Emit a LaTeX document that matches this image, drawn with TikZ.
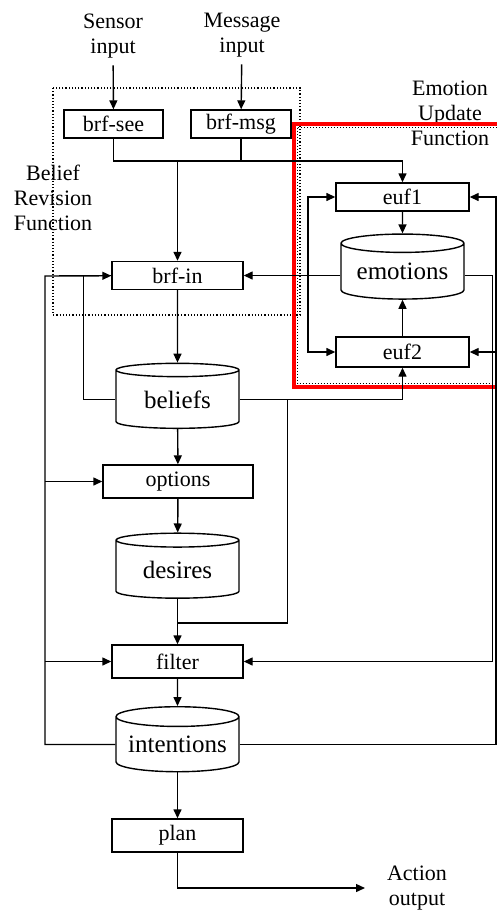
\documentclass[tikz,border=0pt]{standalone}
\usepackage{fontspec}
\setmainfont{Liberation Serif}
\usetikzlibrary{shapes.geometric,arrows.meta,positioning}

\tikzset{
  box/.style={draw,minimum height=14pt,inner sep=0pt,font=\fontsize{11}{12}\selectfont},
  store/.style={draw,cylinder,shape border rotate=90,aspect=0.2,minimum width=61.5pt,minimum height=32.5pt,inner sep=0pt,font=\fontsize{12.5}{14}\selectfont},
  lbl/.style={align=center,font=\fontsize{11}{12.5}\selectfont},
  arr/.style={-{Triangle[length=4.5pt,width=4pt]}}
}

\begin{document}
\begin{tikzpicture}[x=0.5pt,y=-0.5pt,line width=0.7pt]
  \useasboundingbox (0,0) rectangle (497,910);
  \node[lbl] (sensor) at (113,36) {Sensor\\input};
  \node[lbl] (message) at (242,35) {Message\\input};
  \node[box,minimum width=49.5pt] (brfsee) at (113.5,124) {brf-see};
  \node[box,minimum width=50pt] (brfmsg) at (241,124) {brf-msg};
  \node[box,minimum width=66.5pt] (euf1) at (402.5,197) {euf1};
  \node[store] (emotions) at (402.5,271.5) {emotions};
  \node[box,minimum width=66.5pt,minimum height=15pt] (euf2) at (402.5,352) {euf2};
  \node[box,minimum width=65.5pt] (brfin) at (177.5,275.5) {brf-in};
  \node[store] (beliefs) at (177.5,399.5) {beliefs};
  \node[box,minimum width=75pt,minimum height=16.5pt] (options) at (178,481.5) {options};
  \node[store] (desires) at (177.5,569.5) {desires};
  \node[box,minimum width=65.5pt,minimum height=16.5pt] (filter) at (177.5,661.5) {filter};
  \node[store] (intentions) at (177.5,744.5) {intentions};
  \node[box,minimum width=65.5pt,minimum height=16.5pt] (plan) at (177.5,835.5) {plan};
  \node[lbl] (action) at (417,888) {Action\\output};
  \node[lbl] (euflbl) at (450,113) {Emotion\\Update\\Function};
  \node[lbl] (brflbl) at (53,198) {Belief\\Revision\\Function};

  \draw[densely dotted,line width=0.6pt] (53,88) rectangle (300,315);
  \draw[red,line width=1.6pt] (294,124) rectangle (510,387);
  \draw[densely dotted,line width=0.5pt] (297.5,127.5) rectangle (510,383.5);

  \coordinate (jbrf) at (177.5,161);
  \coordinate (eleft) at (308,275.5);
  \coordinate (lout) at (45,276);
  \coordinate (rout) at (496,197);
  \coordinate (jfil) at (177.5,623);
  \coordinate (actend) at (365,888);

  \draw[arr] (sensor) -- (brfsee);
  \draw[arr] (message) -- (brfmsg);
  \draw[arr] (brfsee) |- (jbrf) -| (euf1);
  \draw (brfmsg) -- (brfmsg |- jbrf);
  \draw[arr] (jbrf) -- (brfin);
  \draw[arr] (euf1) -- (emotions);
  \draw[arr] (euf2) -- (emotions);
  \draw[arr] (emotions.west |- brfin) -- (brfin);
  \draw[arr] (eleft) |- (euf1);
  \draw[arr] (eleft) |- (euf2);
  \draw[arr] (emotions.east |- brfin) -- ++(28,0) |- (filter);
  \draw[arr] (intentions) -| (rout) -- (euf1);
  \draw[arr] (rout |- euf2) -- (euf2);
  \draw[arr] (intentions) -| (lout) -- (brfin);
  \draw[arr] (lout |- options) -- (options);
  \draw[arr] (lout |- filter) -- (filter);
  \draw (beliefs.west) -- ++(-32,0) |- (brfin);
  \draw[arr] (beliefs.east) -| (euf2);
  \draw (beliefs.east) ++(48,0) |- (jfil);
  \draw[arr] (brfin) -- (beliefs);
  \draw[arr] (beliefs) -- (options);
  \draw[arr] (options) -- (desires);
  \draw[arr] (desires) -- (filter);
  \draw[arr] (filter) -- (intentions);
  \draw[arr] (intentions) -- (plan);
  \draw[arr] (plan) |- (actend);
\end{tikzpicture}
\end{document}
